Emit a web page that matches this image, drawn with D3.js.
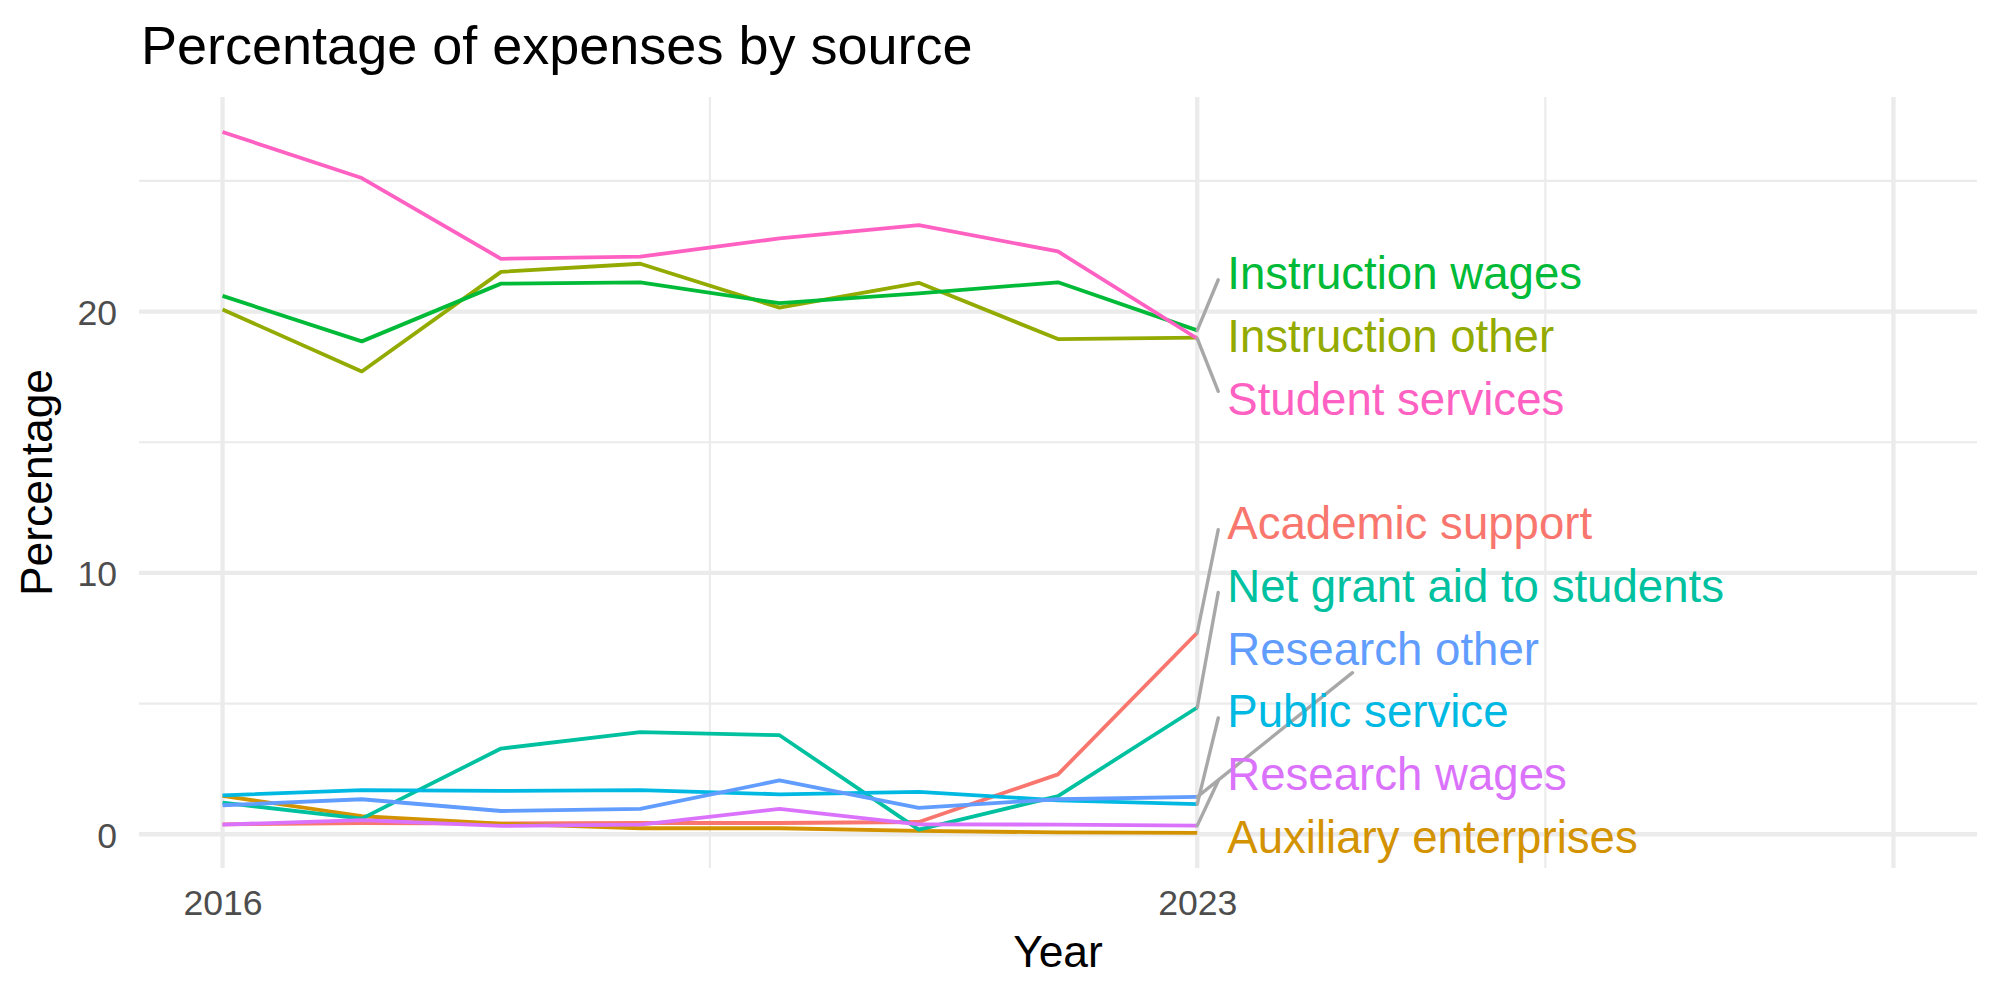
<!DOCTYPE html>
<html lang="en">
  <head>
    <meta charset="UTF-8" />
    <script src="https://cdnjs.cloudflare.com/ajax/libs/d3/7.8.5/d3.min.js"></script>
    <style type="text/css">
      body {
        margin: 0;
        background-color: #ffffff;
        font-family: "Liberation Sans", Arial, Helvetica, sans-serif;
      }
      .grid-major {
        stroke: #ebebeb;
        stroke-width: 4.3px;
      }
      .grid-minor {
        stroke: #ebebeb;
        stroke-width: 2.15px;
      }
      .tick-label {
        fill: #4d4d4d;
        font-size: 35.6px;
      }
    </style>
    <title>Percentage of expenses by source</title>
  </head>
  <body>
    <div class="canvas"></div>
    <script>
      // data
      const years = [2016, 2017, 2018, 2019, 2020, 2021, 2022, 2023];
      const sources = [
        "Academic support",
        "Auxiliary enterprises",
        "Instruction other",
        "Instruction wages",
        "Net grant aid to students",
        "Public service",
        "Research other",
        "Research wages",
        "Student services",
      ];
      const academicSupport = [0.38, 0.43, 0.41, 0.43, 0.43, 0.47, 2.29, 7.71];
      const auxiliaryEnterprises = [1.47, 0.69, 0.41, 0.23, 0.23, 0.13, 0.07, 0.05];
      const instructionOther = [20.08, 17.71, 21.52, 21.83, 20.15, 21.1, 18.95, 19.0];
      const instructionWages = [20.6, 18.86, 21.07, 21.12, 20.32, 20.7, 21.12, 19.28];
      const netGrantAid = [1.21, 0.6, 3.28, 3.91, 3.79, 0.18, 1.46, 4.85];
      const publicService = [1.49, 1.69, 1.66, 1.69, 1.53, 1.62, 1.3, 1.15];
      const researchOther = [1.11, 1.34, 0.89, 0.97, 2.06, 1.01, 1.34, 1.43];
      const researchWages = [0.37, 0.54, 0.32, 0.37, 0.97, 0.38, 0.37, 0.33];
      const studentServices = [26.87, 25.11, 22.02, 22.1, 22.8, 23.31, 22.3, 18.97];

      const seriesValues = [
        academicSupport,
        auxiliaryEnterprises,
        instructionOther,
        instructionWages,
        netGrantAid,
        publicService,
        researchOther,
        researchWages,
        studentServices,
      ];

      const xBreaks = [2016, 2023, 2028];
      const xTickLabels = ["2016", "2023", ""];
      const xMinorBreaks = [2019.5, 2025.5];
      const xLimits = [2016, 2028];
      const yBreaks = [0, 10, 20];
      const yMinorBreaks = [5, 15, 25];

      // ggplot hue palette for 9 groups
      const palette = [
        "#F8766D", "#D39200", "#93AA00", "#00BA38", "#00C19F",
        "#00B9E3", "#619CFF", "#DB72FB", "#FF61C3",
      ];

      const width = 2000;
      const height = 1000;
      const panel = { left: 139, right: 1977, top: 97, bottom: 868 };

      const series = sources.map((name, i) => ({
        name,
        color: palette[i],
        values: years.map((yr, j) => ({ year: yr, value: seriesValues[i][j] })),
      }));

      const expand = (lo, hi) => {
        const pad = (hi - lo) * 0.05;
        return [lo - pad, hi + pad];
      };

      const xScale = d3
        .scaleLinear()
        .domain(expand(xLimits[0], xLimits[1]))
        .range([panel.left, panel.right]);

      const allValues = seriesValues.flat();
      const yScale = d3
        .scaleLinear()
        .domain(expand(d3.min(allValues), d3.max(allValues)))
        .range([panel.bottom, panel.top]);

      const svg = d3
        .select(".canvas")
        .append("svg")
        .attr("width", width)
        .attr("height", height);

      // grid
      const grid = svg.append("g");
      grid
        .selectAll(".ymin")
        .data(yMinorBreaks)
        .join("line")
        .attr("class", "grid-minor")
        .attr("x1", panel.left)
        .attr("x2", panel.right)
        .attr("y1", (d) => yScale(d))
        .attr("y2", (d) => yScale(d));
      grid
        .selectAll(".xmin")
        .data(xMinorBreaks)
        .join("line")
        .attr("class", "grid-minor")
        .attr("x1", (d) => xScale(d))
        .attr("x2", (d) => xScale(d))
        .attr("y1", panel.top)
        .attr("y2", panel.bottom);
      grid
        .selectAll(".ymaj")
        .data(yBreaks)
        .join("line")
        .attr("class", "grid-major")
        .attr("x1", panel.left)
        .attr("x2", panel.right)
        .attr("y1", (d) => yScale(d))
        .attr("y2", (d) => yScale(d));
      grid
        .selectAll(".xmaj")
        .data(xBreaks)
        .join("line")
        .attr("class", "grid-major")
        .attr("x1", (d) => xScale(d))
        .attr("x2", (d) => xScale(d))
        .attr("y1", panel.top)
        .attr("y2", panel.bottom);

      // axes (text only, like theme_minimal)
      const xAxis = d3
        .axisBottom(xScale)
        .tickValues(xBreaks)
        .tickFormat((d, i) => xTickLabels[i])
        .tickSize(0)
        .tickPadding(20);
      const gx = svg
        .append("g")
        .attr("transform", `translate(0, ${panel.bottom})`)
        .call(xAxis);
      gx.select(".domain").remove();
      gx.selectAll("text")
        .attr("class", "tick-label")
        .attr("dy", null)
        .attr("y", 47)
        .style("font-family", "inherit");

      const yAxis = d3.axisLeft(yScale).tickValues(yBreaks).tickSize(0).tickPadding(22);
      const gy = svg
        .append("g")
        .attr("transform", `translate(${panel.left}, 0)`)
        .call(yAxis);
      gy.select(".domain").remove();
      gy.selectAll("text")
        .attr("class", "tick-label")
        .attr("dy", "0.36em")
        .style("font-family", "inherit");

      // lines
      const line = d3
        .line()
        .x((d) => xScale(d.year))
        .y((d) => yScale(d.value));

      svg
        .append("g")
        .selectAll("path")
        .data(series)
        .join("path")
        .attr("fill", "none")
        .attr("stroke", (d) => d.color)
        .attr("stroke-width", 3.8)
        .attr("stroke-linejoin", "round")
        .attr("d", (d) => line(d.values));

      // end labels, repelled vertically
      const labelSize = 45.6;
      const boxH = 62.8;
      const labelX = xScale(years[years.length - 1]) + 30;
      const minY = panel.top + boxH / 2;
      const maxY = panel.bottom - boxH / 2;

      const labels = series
        .map((s) => {
          const last = s.values[s.values.length - 1];
          return {
            name: s.name,
            color: s.color,
            px: xScale(last.year),
            py: yScale(last.value),
          };
        })
        .sort((a, b) => a.py - b.py);

      // merge overlapping blocks, each placed at the mean of its targets
      const blocks = [];
      labels.forEach((lab) => {
        blocks.push({ items: [lab], y0: Math.min(Math.max(lab.py, minY), maxY) });
        while (blocks.length > 1) {
          const cur = blocks[blocks.length - 1];
          const prev = blocks[blocks.length - 2];
          if (prev.y0 + prev.items.length * boxH <= cur.y0) break;
          const items = prev.items.concat(cur.items);
          let y0 = d3.mean(items, (d, k) => d.py - k * boxH);
          y0 = Math.min(Math.max(y0, minY), maxY - (items.length - 1) * boxH);
          blocks.splice(blocks.length - 2, 2, { items, y0 });
        }
      });
      blocks.forEach((b) => b.items.forEach((d, k) => (d.ly = b.y0 + k * boxH)));

      const labelG = svg.append("g");
      const texts = labelG
        .selectAll("text")
        .data(labels)
        .join("text")
        .attr("x", labelX)
        .attr("y", (d) => d.ly + labelSize * 0.358)
        .attr("fill", (d) => d.color)
        .style("font-size", labelSize + "px")
        .text((d) => d.name);

      texts.each(function (d) {
        d.w = this.getComputedTextLength();
      });

      const segments = labels
        .map((d) => {
          const dy = d.py - d.ly;
          let x2, y2;
          if (Math.abs(dy) > 135) {
            // long connector runs toward the label centre and stops at its edge
            const cx = labelX + d.w / 2;
            y2 = d.ly + Math.sign(dy) * 24.5;
            x2 = d.px + ((cx - d.px) * (d.py - y2)) / (d.py - d.ly);
          } else {
            x2 = labelX - 9;
            y2 = d.ly + Math.max(-7, Math.min(7, dy));
          }
          return { x1: d.px, y1: d.py, x2, y2 };
        })
        .filter((s) => Math.hypot(s.x2 - s.x1, s.y2 - s.y1) > 27);

      labelG
        .selectAll("line")
        .data(segments)
        .join("line")
        .attr("x1", (d) => d.x1)
        .attr("y1", (d) => d.y1)
        .attr("x2", (d) => d.x2)
        .attr("y2", (d) => d.y2)
        .attr("stroke", "#a8a8a8")
        .attr("stroke-width", 3.4)
        .attr("stroke-linecap", "round");
      labelG.selectAll("line").lower();

      // titles
      svg
        .append("text")
        .attr("x", panel.left + 2)
        .attr("y", 64)
        .style("font-size", "54px")
        .attr("fill", "#000")
        .text("Percentage of expenses by source");

      svg
        .append("text")
        .attr("x", (panel.left + panel.right) / 2)
        .attr("y", 967)
        .attr("text-anchor", "middle")
        .style("font-size", "44.4px")
        .attr("fill", "#000")
        .text("Year");

      svg
        .append("text")
        .attr("transform", `translate(52, ${(panel.top + panel.bottom) / 2}) rotate(-90)`)
        .attr("text-anchor", "middle")
        .style("font-size", "44.4px")
        .attr("fill", "#000")
        .text("Percentage");
    </script>
  </body>
</html>
